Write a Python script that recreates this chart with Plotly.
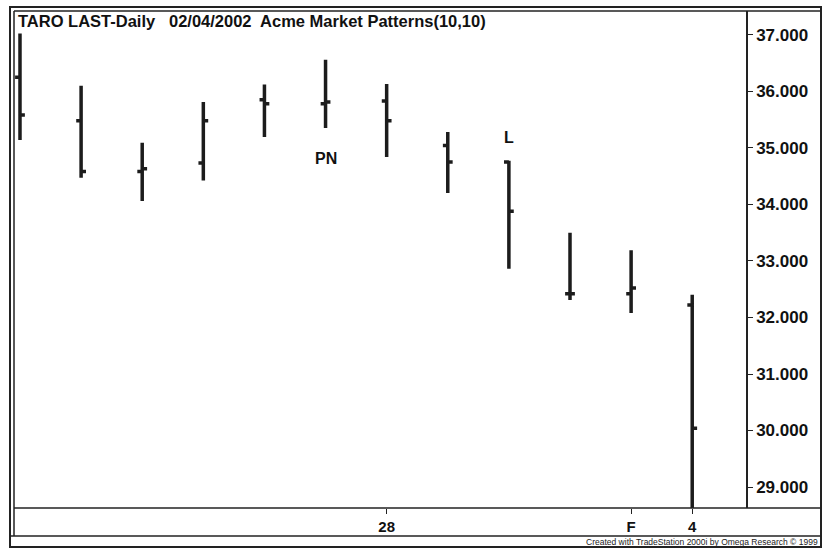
import plotly.graph_objects as go

# ---- data ----
bar_index = list(range(12))
opens  = [36.25, 35.48, 34.58, 34.73, 35.85, 35.78, 35.83, 35.04, 34.75, 32.42, 32.42, 32.22]
highs  = [37.02, 36.10, 35.09, 35.81, 36.12, 36.56, 36.13, 35.28, 34.77, 33.50, 33.19, 32.40]
lows   = [35.14, 34.47, 34.06, 34.42, 35.19, 35.35, 34.84, 34.20, 32.86, 32.31, 32.08, 28.30]
closes = [35.58, 34.58, 34.63, 35.48, 35.78, 35.81, 35.48, 34.75, 33.88, 32.42, 32.52, 30.04]

x_tick_pos = [6, 10, 11]
x_tick_text = ["28", "F", "4"]
y_tick_vals = [29, 30, 31, 32, 33, 34, 35, 36, 37]

title_text = "TARO LAST-Daily   02/04/2002  Acme Market Patterns(10,10)"
pattern_labels = [("PN", 5, 34.82), ("L", 8, 35.19)]
footer_text = "Created with TradeStation 2000i by Omega Research \u00a9 1999"

# ---- layout geometry ----
W, H = 822, 549
ML, MR, MT, MB = 14, 76, 11, 41
PW, PH = W - ML - MR, H - MT - MB


def px(x):
    return (x - ML) / PW


def py(y):
    return (H - MB - y) / PH


fig = go.Figure()
fig.add_trace(go.Ohlc(
    x=bar_index, open=opens, high=highs, low=lows, close=closes,
    increasing=dict(line=dict(color="#1c1c1c", width=3.5)),
    decreasing=dict(line=dict(color="#1c1c1c", width=3.5)),
    tickwidth=0.08, hoverinfo="skip", showlegend=False,
))

font_main = "Liberation Sans, Arial, sans-serif"

annotations = [
    dict(text=title_text, xref="paper", yref="paper", x=px(16), y=py(21),
         xanchor="left", yanchor="middle", showarrow=False,
         font=dict(family=font_main, size=16.5, color="#111", weight="bold")),
    dict(text=footer_text, xref="paper", yref="paper", x=px(820), y=py(542),
         xanchor="right", yanchor="middle", showarrow=False,
         font=dict(family=font_main, size=8.5, color="#222")),
]
for txt, xi, yv in pattern_labels:
    annotations.append(dict(text=txt, x=xi, y=yv, xref="x", yref="y",
                            showarrow=False,
                            font=dict(family=font_main, size=16, color="#111", weight="bold")))

line_col = "#222"
shapes = [
    # outer frame
    dict(type="rect", xref="paper", yref="paper", x0=px(10), x1=px(821), y0=py(547), y1=py(7),
         line=dict(color=line_col, width=2), layer="above"),
    # inner frame / plot border left & top
    dict(type="line", xref="paper", yref="paper", x0=px(14), x1=px(14), y0=py(536), y1=py(11),
         line=dict(color=line_col, width=1.5)),
    dict(type="line", xref="paper", yref="paper", x0=px(14), x1=px(821), y0=py(11), y1=py(11),
         line=dict(color=line_col, width=1.5)),
    # x axis bottom line
    dict(type="line", xref="paper", yref="paper", x0=px(14), x1=px(821), y0=py(508), y1=py(508),
         line=dict(color=line_col, width=1.5)),
    # footer separator
    dict(type="line", xref="paper", yref="paper", x0=px(10), x1=px(821), y0=py(536), y1=py(536),
         line=dict(color=line_col, width=1.5)),
]

fig.update_layout(
    width=W, height=H,
    margin=dict(l=ML, r=MR, t=MT, b=MB, pad=0),
    paper_bgcolor="white", plot_bgcolor="white",
    showlegend=False,
    annotations=annotations,
    shapes=shapes,
    xaxis=dict(
        range=[-0.098, 11.88], rangeslider=dict(visible=False),
        tickmode="array", tickvals=x_tick_pos, ticktext=x_tick_text,
        ticks="outside", ticklen=5, tickcolor=line_col, tickwidth=1,
        showgrid=False, zeroline=False, showline=False,
        tickfont=dict(family=font_main, size=15, color="#111", weight="bold"),
        fixedrange=True,
    ),
    yaxis=dict(
        range=[28.63, 37.42], side="right",
        tickmode="array", tickvals=y_tick_vals, tickformat=".3f",
        ticks="outside", ticklen=5, tickcolor=line_col, tickwidth=1,
        showgrid=False, zeroline=False,
        showline=True, linecolor=line_col, linewidth=1.5,
        tickfont=dict(family=font_main, size=17, color="#111", weight="bold"),
        fixedrange=True,
    ),
)

fig.write_html("out.html", config={"displayModeBar": False},
               post_script="document.body.style.margin='0';document.body.style.overflow='hidden';")
